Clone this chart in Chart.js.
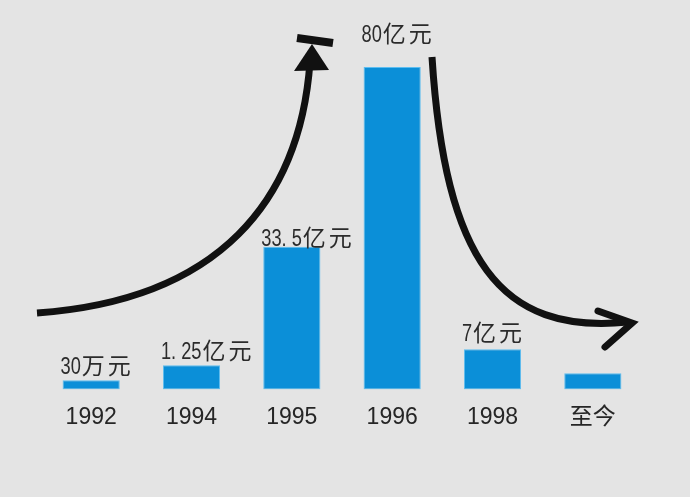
<!DOCTYPE html>
<html>
<head>
<meta charset="utf-8">
<script src="https://cdn.jsdelivr.net/npm/chart.js@4/dist/chart.umd.min.js"></script>
<style>
  html, body { margin: 0; padding: 0; background: #e4e4e4; }
  #wrap { width: 690px; height: 497px; }
</style>
</head>
<body>
<div id="wrap"><canvas id="grafico" width="690" height="497"></canvas></div>
<script>
// datos
const years = ['1992', '1994', '1995', '1996', '1998', '至今'];
// altura visual de cada barra (la imagen no es proporcional a los montos)
const barHeights = [9, 24, 142, 321, 40, 16];
const amountLabels = ['30万元', '1. 25亿元', '33. 5亿元', '80亿元', '7亿元', ''];

// cuánto sube cada rótulo sobre su barra (px)
const labelLift = [6, 6, 1, 25, 8, 0];

// escribe cifras estrechas y caracteres chinos normales
function textoMixto(ctx, txt, x, y) {
  const partes = txt.match(/[\x00-\x7f]+|[^\x00-\x7f]+/g);
  let cx = x;
  partes.forEach(p => {
    if (/^[\x00-\x7f]+$/.test(p)) {
      ctx.font = "24px 'Liberation Sans', sans-serif";
      const w = ctx.measureText(p).width * 0.76;
      ctx.save();
      ctx.translate(cx, y);
      ctx.scale(0.76, 1);
      ctx.fillText(p, 0, 0);
      ctx.restore();
      cx += w + 1;
    } else {
      ctx.font = "23px 'Noto Sans CJK SC', sans-serif";
      for (const ch of p) {
        ctx.fillText(ch, cx, y);
        cx += ctx.measureText(ch).width + 3;
      }
    }
  });
}

const labelsPlugin = {
  id: 'amountLabels',
  afterDatasetsDraw(chart) {
    const ctx = chart.ctx;
    const meta = chart.getDatasetMeta(0);
    ctx.save();
    ctx.fillStyle = '#2b2b2b';
    ctx.textAlign = 'left';
    ctx.textBaseline = 'alphabetic';
    meta.data.forEach((bar, i) => {
      const txt = amountLabels[i];
      if (!txt) return;
      textoMixto(ctx, txt, bar.x - bar.width / 2 - 2, bar.y - labelLift[i]);
    });
    ctx.restore();
  }
};

// flechas decorativas
const arrowsPlugin = {
  id: 'arrows',
  afterDraw(chart) {
    const ctx = chart.ctx;
    ctx.save();
    ctx.strokeStyle = '#111';
    ctx.fillStyle = '#111';
    ctx.lineWidth = 7;
    ctx.lineCap = 'butt';

    // curva ascendente
    ctx.beginPath();
    ctx.moveTo(37, 313);
    ctx.bezierCurveTo(220, 300, 300, 200, 310, 62);
    ctx.stroke();
    ctx.beginPath();
    ctx.moveTo(312, 44);
    ctx.lineTo(329, 70);
    ctx.lineTo(294, 71);
    ctx.closePath();
    ctx.fill();
    ctx.lineWidth = 8;
    ctx.beginPath();
    ctx.moveTo(297, 38);
    ctx.lineTo(333, 43);
    ctx.stroke();

    // curva descendente
    ctx.lineWidth = 7;
    ctx.beginPath();
    ctx.moveTo(432, 57);
    ctx.bezierCurveTo(445, 260, 500, 335, 628, 322);
    ctx.stroke();
    ctx.lineCap = 'round';
    ctx.beginPath();
    ctx.moveTo(598, 311);
    ctx.lineTo(632, 323);
    ctx.lineTo(605, 347);
    ctx.stroke();
    ctx.restore();
  }
};

new Chart(document.getElementById('grafico'), {
  type: 'bar',
  data: {
    labels: years,
    datasets: [{
      data: barHeights,
      backgroundColor: '#0b8fd8',
      borderColor: '#5cbdf0',
      borderWidth: 1,
      borderSkipped: false,
      categoryPercentage: 1,
      barPercentage: 0.57
    }]
  },
  options: {
    responsive: false,
    animation: false,
    events: [],
    layout: { padding: { top: 67, left: 41, right: 47, bottom: 52 } },
    scales: {
      x: {
        grid: { display: false, drawTicks: false },
        border: { display: false },
        ticks: {
          padding: 14,
          color: '#262626',
          font: { family: "'Liberation Sans', 'Noto Sans CJK SC', sans-serif", size: 23 }
        }
      },
      y: { display: false, min: 0, max: 321 }
    },
    plugins: {
      legend: { display: false },
      tooltip: { enabled: false }
    }
  },
  plugins: [labelsPlugin, arrowsPlugin]
});
</script>
</body>
</html>
